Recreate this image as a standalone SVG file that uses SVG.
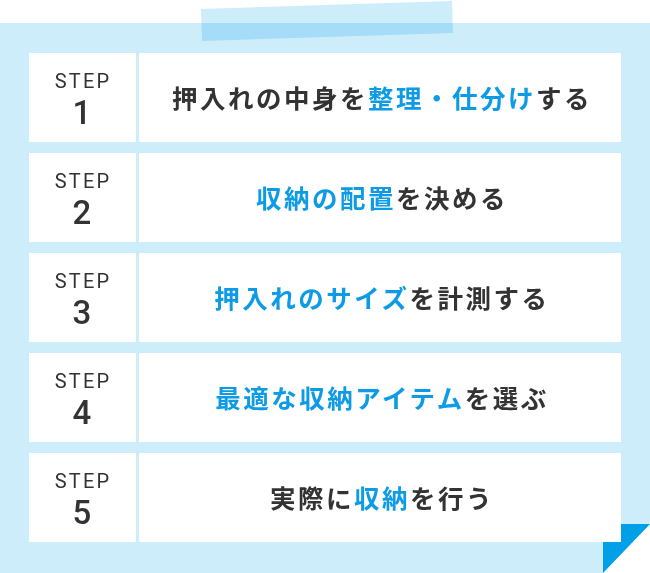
<svg xmlns="http://www.w3.org/2000/svg" width="650" height="573" viewBox="0 0 650 573">
<style>
.cell{fill:#ffffff}
.step{font-family:Roboto,"Noto Sans",sans-serif;font-size:20px;fill:#333333;text-anchor:middle;letter-spacing:2.2px}
.num{font-family:Roboto,"Noto Sans",sans-serif;font-size:33px;font-weight:500;fill:#333333;text-anchor:middle}
.main{font-family:"Noto Sans CJK JP",sans-serif;font-size:25.5px;font-weight:700;fill:#333333;text-anchor:middle;letter-spacing:2.5px}
.hl{fill:#0e9be6}
</style>
<polygon points="0,23 650,23 650,524 603,573 0,573" fill="#cdedfb"/>
<polygon points="603,524 650,524 603,573" fill="#00a0e9"/>
<polygon points="201,9 452,1 453,33 202,41" fill="#cdedfb" style="mix-blend-mode:multiply"/>
<g id="step1">
<rect class="cell" x="29" y="53" width="107" height="89"/>
<rect class="cell" x="139" y="53" width="482" height="89"/>
<text class="step" x="83" y="88">STEP</text>
<text class="num" x="82" y="124">1</text>
<text class="main" x="382" y="108">押入れの中身を<tspan class="hl">整理・仕分け</tspan>する</text>
</g>
<g id="step2">
<rect class="cell" x="29" y="153" width="107" height="89"/>
<rect class="cell" x="139" y="153" width="482" height="89"/>
<text class="step" x="83" y="188">STEP</text>
<text class="num" x="82" y="224">2</text>
<text class="main" x="382" y="208"><tspan class="hl">収納の配置</tspan>を決める</text>
</g>
<g id="step3">
<rect class="cell" x="29" y="253" width="107" height="89"/>
<rect class="cell" x="139" y="253" width="482" height="89"/>
<text class="step" x="83" y="288">STEP</text>
<text class="num" x="82" y="324">3</text>
<text class="main" x="382" y="308"><tspan class="hl">押入れのサイズ</tspan>を計測する</text>
</g>
<g id="step4">
<rect class="cell" x="29" y="353" width="107" height="89"/>
<rect class="cell" x="139" y="353" width="482" height="89"/>
<text class="step" x="83" y="388">STEP</text>
<text class="num" x="82" y="424">4</text>
<text class="main" x="382" y="408"><tspan class="hl">最適な収納アイテム</tspan>を選ぶ</text>
</g>
<g id="step5">
<rect class="cell" x="29" y="453" width="107" height="89"/>
<rect class="cell" x="139" y="453" width="482" height="89"/>
<text class="step" x="83" y="488">STEP</text>
<text class="num" x="82" y="524">5</text>
<text class="main" x="382" y="508">実際に<tspan class="hl">収納</tspan>を行う</text>
</g>
<g id="connectors"></g>
</svg>
